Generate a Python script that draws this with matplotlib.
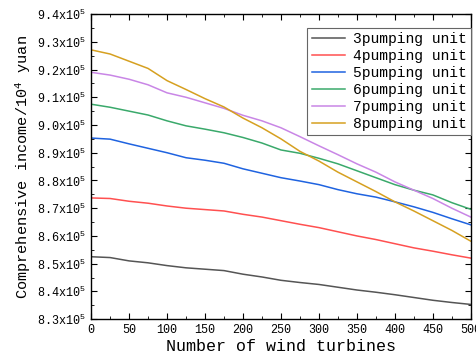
import matplotlib
matplotlib.use("Agg")
import matplotlib.pyplot as plt
from matplotlib.ticker import MultipleLocator, FuncFormatter

turbines = [0, 25, 50, 75, 100, 125, 150, 175, 200, 225, 250,
            275, 300, 325, 350, 375, 400, 425, 450, 475, 500]

# comprehensive income, units of 1e5
unit3 = [8.525, 8.522, 8.510, 8.503, 8.493, 8.485, 8.480, 8.475, 8.462, 8.452, 8.440,
         8.432, 8.425, 8.415, 8.405, 8.397, 8.388, 8.378, 8.368, 8.360, 8.353]
unit4 = [8.737, 8.735, 8.725, 8.718, 8.708, 8.700, 8.695, 8.690, 8.678, 8.668, 8.655,
         8.642, 8.630, 8.615, 8.600, 8.587, 8.572, 8.557, 8.545, 8.532, 8.520]
unit5 = [8.953, 8.949, 8.932, 8.916, 8.900, 8.882, 8.873, 8.862, 8.842, 8.826, 8.810,
         8.798, 8.785, 8.767, 8.752, 8.740, 8.723, 8.705, 8.685, 8.662, 8.640]
unit6 = [9.075, 9.064, 9.050, 9.036, 9.015, 8.997, 8.985, 8.972, 8.955, 8.935, 8.910,
         8.898, 8.880, 8.860, 8.835, 8.810, 8.785, 8.765, 8.748, 8.720, 8.696]
unit7 = [9.190, 9.180, 9.165, 9.145, 9.116, 9.100, 9.080, 9.060, 9.035, 9.015, 8.990,
         8.958, 8.925, 8.893, 8.860, 8.830, 8.795, 8.765, 8.735, 8.700, 8.668]
unit8 = [9.271, 9.256, 9.230, 9.204, 9.160, 9.128, 9.095, 9.065, 9.025, 8.990, 8.950,
         8.905, 8.870, 8.830, 8.795, 8.760, 8.723, 8.690, 8.655, 8.620, 8.581]

labels = ["3pumping unit", "4pumping unit", "5pumping unit",
          "6pumping unit", "7pumping unit", "8pumping unit"]
colors = ["#555555", "#ff5050", "#1f63e0", "#3aa96b", "#c986e6", "#d6a020"]

plt.rcParams["font.family"] = ["Liberation Mono", "DejaVu Sans Mono"]
plt.rcParams["mathtext.fontset"] = "custom"
plt.rcParams["mathtext.rm"] = "Liberation Mono"
plt.rcParams["mathtext.it"] = "Liberation Mono"

fig = plt.figure(figsize=(4.77, 3.61), dpi=100)
ax = fig.add_axes([0.191, 0.116, 0.796, 0.845])

for ys, lab, c in zip([unit3, unit4, unit5, unit6, unit7, unit8], labels, colors):
    ax.plot(turbines, ys, color=c, lw=1.1, label=lab)

ax.set_xlim(0, 500)
ax.set_ylim(8.3, 9.4)
ax.xaxis.set_major_locator(MultipleLocator(50))
ax.xaxis.set_minor_locator(MultipleLocator(25))
ax.yaxis.set_major_locator(MultipleLocator(0.1))
ax.yaxis.set_minor_locator(MultipleLocator(0.05))
ax.yaxis.set_major_formatter(FuncFormatter(lambda v, p: "%.1fx10$^5$" % v))
ax.tick_params(which="both", direction="in", top=True, right=True, labelsize=8.5)
ax.tick_params(which="major", length=4)
ax.tick_params(which="minor", length=2)
for s in ax.spines.values():
    s.set_linewidth(1.0)

ax.set_xlabel("Number of wind turbines", fontsize=12, labelpad=2)
ax.set_ylabel("Comprehensive income/10$^4$ yuan", fontsize=11, labelpad=3)

leg = ax.legend(loc="upper right", bbox_to_anchor=(1.0, 0.955), fontsize=10.5,
                frameon=True, fancybox=False, edgecolor="#666666", framealpha=1,
                borderaxespad=0, handlelength=2.3, handletextpad=0.5,
                labelspacing=0.2, borderpad=0.3)
leg.get_frame().set_linewidth(0.8)

fig.savefig("out.png", dpi=100)
